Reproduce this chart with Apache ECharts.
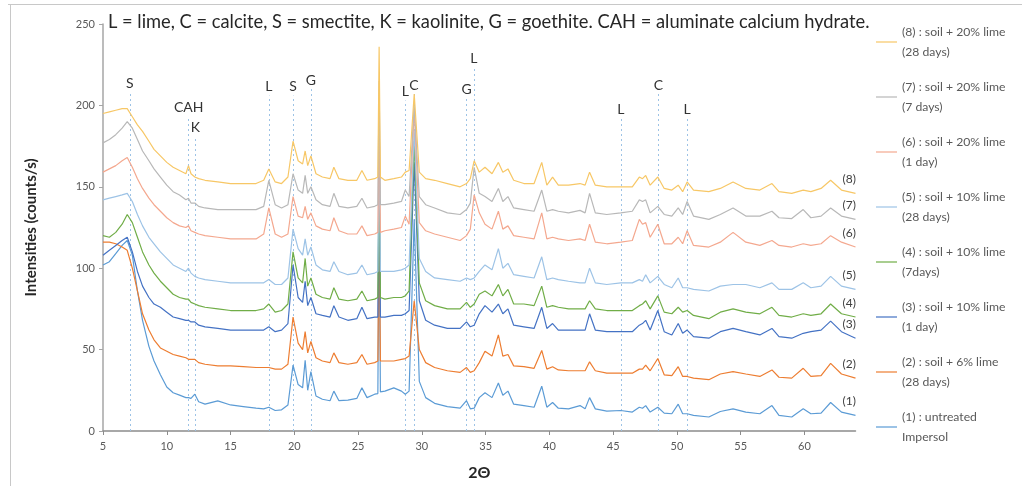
<!DOCTYPE html>
<html>
<head>
<meta charset="utf-8">
<script src="https://cdn.jsdelivr.net/npm/echarts@6/dist/echarts.min.js"></script>
<style>
html,body{margin:0;padding:0;background:#fff;}
#chart{width:1022px;height:486px;}
</style>
</head>
<body>
<div id="chart"></div>
<script>
// 2-theta positions (degrees)
const twoTheta = [5.0,5.5,6.0,6.5,6.9,7.3,7.7,8.1,8.6,9.0,9.5,10.0,10.5,11.0,11.5,11.7,11.9,12.2,12.5,13.0,
14.0,15.0,16.0,17.0,17.6,18.0,18.5,19.0,19.5,19.9,20.3,20.65,20.85,21.05,21.3,21.7,22.2,22.8,23.1,23.5,
24.2,24.9,25.3,25.7,26.3,26.55,26.65,26.75,27.1,27.8,28.4,28.7,29.0,29.4,29.8,30.3,31.0,32.0,33.0,33.5,
33.8,34.1,34.5,34.95,35.5,36.0,36.35,36.75,37.2,38.0,38.8,39.4,39.8,40.25,40.7,41.5,42.4,42.8,43.15,43.6,
44.5,45.6,46.5,47.05,47.3,47.55,47.9,48.5,49.0,49.6,50.1,50.45,50.8,51.3,52.5,53.4,54.4,55.4,56.5,57.45,
58.0,59.0,59.9,60.5,61.3,62.05,62.9,64.0];

// (8) soil + 20% lime, 28 days
const s8 = [195,196,197,198,198,193,188,184,178,173,169,165,162,160,158,163,158,156,155,154,
153,152,152,152,154,161,153,152,156,178,166,164,172,163,169,158,156,155,162,155,
154,154,160,154,155,156,236,156,154,155,156,159,160,207,159,155,154,152,150,152,
155,166,159,162,158,165,159,161,154,152,152,165,151,156,151,151,152,151,159,151,
150,150,150,156,155,157,151,156,149,148,151,147,153,148,147,149,153,149,148,152,
147,146,148,147,149,154,148,146];
// (7) soil + 20% lime, 7 days
const s7 = [177,179,182,186,190,186,179,172,166,161,156,151,147,145,142,143,140,140,138,137,
136,136,136,136,138,154,139,137,139,158,148,146,157,146,150,142,139,138,146,138,
137,138,143,137,138,139,215,139,139,140,141,148,144,200,144,139,137,134,133,136,
140,162,146,144,141,149,141,144,137,136,135,148,135,136,135,134,135.5,134,146,134,
133,134,135,142,141,142,134,138,133,132,137,133,141,132,130,133,137,132,132,135,
131,130.5,136,131,132,137,132,130];
// (6) soil + 20% lime, 1 day
const s6 = [159,161,163,166,168,162,155,149,143,139,135,131,128,126,125,126,123,122,121,120,
119,118,118,118,121,137,121,119,121,144,132,131,138,130,134,126,124,123,131,123,
121,121,126,120,121,122,195,122,123,124,125,132,127,198,128,123,121,119,117,120,
124,145,134,127,124,135,124,126,120,119,118,134,118,119,118,117,118,117,127,116,
115,116,117,130,127,128,119,127,115,115,119,115,123,114,113,116,122,116,114,117,
114,113,115,114,115,120,116,113];
// (5) soil + 10% lime, 28 days
const s5 = [142,143,144,145,146,141,133,126,119,115,110,106,102,100,98,100,97,95,94,93,
92,91,91,91,91,93,90,90,94,124,112,108,118,108,113,102,99,98,104,98,
96,97,102,96,97,98,175,98,98,98,99,100,102,185,106,98,94,93,92,94,
93,94,98,102,99,112,100,103,96,95,94,107,93,94,93,92,91,91,100,91,
90,91,91,93,92,96,91,95,90,88,94,88,88,87,86,89,90,90,88,91,
87,87,91,88,89,95,89,87];
// (4) soil + 10% lime, 7 days
const s4 = [120,119,122,127,133,128,119,110,102,97,92,88,84,82,81,81,79,78,77,76,
75,74,74,74,75,78,73,74,78,110,94,91,106,89,94,84,82,81,88,81,
80,81,86,80,81,82,165,82,81,82,82,83,86,178,91,80,77,75,75,79,
76,78,84,86,83,90,83,87,78,78,77,89,76,77,76,75,75,75,80,75,
74,74,74,77,78,80,75,83,73,72,76,73,74,71,69,73,75,73,72,76,
71,70,72,71,72,78,72,70];
// (3) soil + 10% lime, 1 day
const s3 = [108,111,114,117,119,110,98,89,82,78,76,73,70,69,68,68,67,67,65,64,
63,62,62,62,62,64,61,62,66,102,82,79,92,77,82,72,71,70,77,70,
68,69,76,69,70,70,155,70,70,71,71,72,74,165,80,68,65,63,63,67,
64,65,72,77,73,78,72,75,65,64,63,76,63,66,62,62,62,62,72,62,
61,61,61,65,66,68,62,74,61,59,66,60,62,58,57,61,63,61,59,63,
58,57,60,61,62,67.5,61,57];
// (2) soil + 6% lime, 28 days
const s2 = [116,116,115,113,111,100,86,72,62,56,51,49,47,46,45,44,44,44,42,41,
40,40,39.5,39,39,39,38,38,41,70,54,50,61,48,55,45,43,42,48,42,
41,42,47,41,42,43,130,43,43,43,44,44.5,46,80,50,42,39,37,36,39,
36,37,42,49,46,59,46,47,40,39.5,38.5,49.5,38,39.5,37.5,37,37,37,42.5,37,
35.5,35.5,35.5,38,38,40.5,37,44.5,34.5,34,39.5,33.5,33.5,32.5,31.5,35,36.5,35,33.5,37.5,
33,32.5,38.5,33.5,34,41.5,35,32.5];
// (1) untreated Impersol
const s1 = [102,104,109,114,117,108,86,68,52,43,34.5,27,23.5,22,20.5,20.5,20,22.6,18,16.5,
18.5,16,15,14,13.6,14.6,12.6,13,16,40.5,28.5,26.5,43.5,25,36.5,21.5,19.5,18.6,24.5,18.6,
19,20,26.5,20.5,22.6,23,134,24,24.5,26.5,24.5,22.6,24.5,130,30.5,20.5,17,15,14,18.6,
13.6,14,20.5,23.5,20.5,29.5,22,24.5,16.5,15.6,14.6,27.5,14.6,17.5,14,13.6,15.6,13.6,20.5,13.6,
12.2,12.6,11.6,14.6,14,15.6,11.6,14.6,11,10.6,16.5,10.6,10.6,9.6,8.6,12,13.6,11.6,10.6,15.6,
9.6,8.6,13.6,10.6,11,17.5,11.6,9.6];

const seriesNames = [
  '(1) : untreated\nImpersol',
  '(2) : soil + 6% lime\n(28 days)',
  '(3) : soil + 10% lime\n(1 day)',
  '(4) : soil + 10% lime\n(7days)',
  '(5) : soil + 10% lime\n(28 days)',
  '(6) : soil + 20% lime\n(1 day)',
  '(7) : soil + 20% lime\n(7 days)',
  '(8) : soil + 20% lime\n(28 days)'
];
const endTags = ['(1)','(2)','(3)','(4)','(5)','(6)','(7)','(8)'];
const seriesValues = [s1,s2,s3,s4,s5,s6,s7,s8];
const seriesColors = ['#5b9bd5','#ed7d31','#4472c4','#70ad47','#9dc3e6','#f4a88f','#b8b8b8','#f7c766'];

// phase markers: [label, 2theta, top of guide line (counts/s)]
const phaseLabels = ['S','CAH','K','L','S','G','L','C','G','L','L','C','L'];
const phasePos    = [7.1,11.72,12.24,18.0,19.9,21.3,28.7,29.38,33.5,34.07,45.6,48.55,50.8];
const phaseTop    = [208,193,181,206,206,210,203,207,204,223,192,207,192];

const yTicks = [0,50,100,150,200,250];
const xTicks = [5,10,15,20,25,30,35,40,45,50,55,60];

const FONT = 'Lato, "Noto Sans", sans-serif';

const chart = echarts.init(document.getElementById('chart'), null, {renderer:'canvas'});

const markData = phaseLabels.map((lab,i)=>[
  {name: lab, coord:[phasePos[i], 0]},
  {coord:[phasePos[i], phaseTop[i]]}
]);

const series = seriesValues.map((vals, i) => {
  const s = {
    name: seriesNames[i],
    type: 'line',
    data: twoTheta.map((x,j)=>[x, vals[j]]),
    symbol: 'none',
    showSymbol: false,
    smooth: false,
    z: 3,
    lineStyle: {color: seriesColors[i], width: 1.2},
    itemStyle: {color: seriesColors[i]},
    endLabel: {
      show: true,
      formatter: endTags[i],
      color: '#404040',
      fontSize: 12,
      fontFamily: FONT,
      offset: [-21, -14]
    },
    emphasis: {disabled: true}
  };
  if (i === 0) {
    s.markLine = {
      silent: true,
      symbol: ['none','none'],
      z: 1,
      lineStyle: {color:'#9dc3e6', type:[2,3], width:1},
      label: {
        show: true, position: 'end', formatter: '{b}',
        color: '#333', fontSize: 14, fontFamily: FONT, distance: 2
      },
      data: markData,
      animation: false
    };
  }
  return s;
});

chart.setOption({
  animation: false,
  backgroundColor: '#fff',
  title: {
    text: 'L = lime, C = calcite, S = smectite, K = kaolinite, G = goethite. CAH = aluminate calcium hydrate.',
    left: 108, top: 12, padding: 0,
    textStyle: {fontFamily: FONT, fontSize: 18.3, fontWeight: 'normal', color: '#262626', lineHeight: 20}
  },
  graphic: [
    {type:'line', shape:{x1:8, y1:4.5, x2:1022, y2:4.5}, style:{stroke:'#c8c8c8', lineWidth:1}, silent:true},
    {type:'line', shape:{x1:10.5, y1:4.5, x2:10.5, y2:486}, style:{stroke:'#c8c8c8', lineWidth:1}, silent:true}
  ],
  legend: {
    orient: 'vertical',
    left: 876, top: 12, padding: 0,
    icon: 'rect',
    itemWidth: 21, itemHeight: 1.2, itemGap: -5,
    data: seriesNames.slice().reverse(),
    textStyle: {color:'#595959', fontSize: 12.2, fontFamily: FONT, lineHeight: 20, padding:[20,0,0,0]},
    selectedMode: false
  },
  grid: {left: 103, right: 166.5, top: 24, bottom: 45, containLabel: false},
  xAxis: {
    type: 'value', min: 5, max: 64, interval: 5,
    name: '2Θ', nameLocation: 'middle', nameGap: 34,
    nameTextStyle: {fontFamily: FONT, fontSize: 16, fontWeight: 'bold', color: '#262626'},
    axisLine: {show: true, lineStyle: {color: '#8c8c8c', width: 1.5}},
    axisTick: {show: true, length: 4, lineStyle:{color:'#8c8c8c'}},
    axisLabel: {color: '#595959', fontSize: 11, fontFamily: FONT, margin: 10, showMaxLabel: false,
      formatter: v => xTicks.includes(v) ? String(v) : ''},
    splitLine: {show: false}
  },
  yAxis: {
    type: 'value', min: 0, max: 250, interval: 50,
    name: 'Intensities (counts/s)', nameLocation: 'middle', nameGap: 64,
    nameTextStyle: {fontFamily: FONT, fontSize: 15, fontWeight: 'bold', color: '#262626'},
    axisLine: {show: true, lineStyle: {color: '#a6a6a6', width: 1.5}},
    axisTick: {show: true, length: 4, lineStyle:{color:'#a6a6a6'}},
    axisLabel: {color: '#595959', fontSize: 11, fontFamily: FONT, margin: 8,
      formatter: v => yTicks.includes(v) ? String(v) : ''},
    splitLine: {show: false}
  },
  series: series
});
</script>
</body>
</html>
